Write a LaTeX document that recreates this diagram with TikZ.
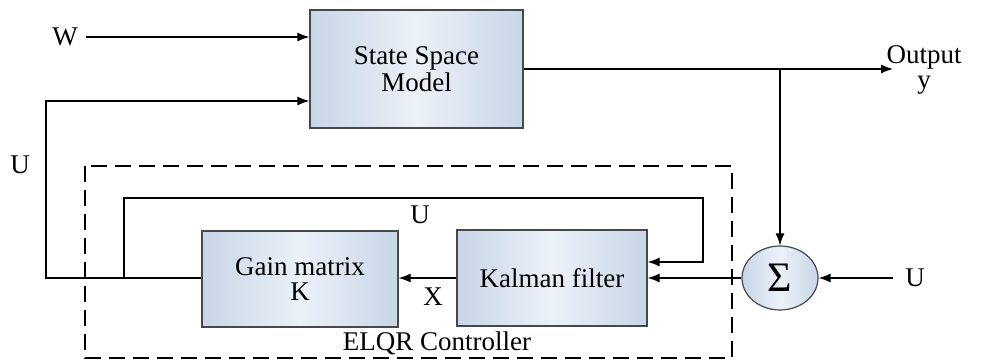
\documentclass[tikz,border=0pt]{standalone}
\usepackage{fontspec}
\setmainfont{Liberation Serif}
\definecolor{boxedge}{RGB}{200, 214, 231}
\definecolor{boxmid}{RGB}{236, 241, 248}
\definecolor{boxline}{RGB}{70, 72, 76}
\usetikzlibrary{arrows.meta, positioning, shapes.geometric, calc}
\tikzset{
	block/.style={rectangle, draw=boxline, line width=0.6pt, left color=boxedge, right color=boxedge, middle color=boxmid, align=center, font=\fontsize{13.5}{13.5}\selectfont},
	sumnode/.style={ellipse, draw=boxline, line width=0.6pt, left color=boxedge, right color=boxedge, middle color=boxmid, minimum width=38pt, minimum height=32pt, inner sep=0pt, font=\fontsize{21}{21}\selectfont},
	lbl/.style={inner sep=1pt, align=center, font=\fontsize{13.5}{12.5}\selectfont},
	arrow/.style={-{Latex[length=6pt, width=4.5pt]}, line width=0.6pt, draw=black},
	ctrlbox/.style={dash pattern=on 8pt off 4pt, line width=1pt},
}
\begin{document}
\begin{tikzpicture}[x=0.5pt, y=-0.5pt]
		\useasboundingbox (0,0) rectangle (988,363);
		\node[block, minimum width=106.5pt, minimum height=59pt] (ssm) at (416.5,69) {State Space\\Model};
		\node[block, minimum width=98pt, minimum height=48pt, font=\fontsize{13.5}{12.5}\selectfont] (gain) at (300,279) {Gain matrix\\K};
		\node[block, minimum width=95pt, minimum height=48pt] (kalman) at (552,278) {Kalman filter};
		\node[sumnode] (sum) at (780,278) {Σ};
		\node[lbl] (wlab) at (65,37) {W};
		\node[lbl] (ylab) at (924,70) {Output\\y};
		\node[lbl] (ulab) at (20,165) {U};
		\node[lbl] (uinlab) at (420,215) {U};
		\node[lbl] (xlab) at (433,297) {X};
		\node[lbl] (urlab) at (915,278) {U};
		\node[lbl] (ctrllab) at (437,343) {ELQR Controller};
		\coordinate (win) at (86,37);
		\coordinate (uturn) at (46,278);
		\coordinate (branch) at (124,278);
		\coordinate (rtop) at (703,198);
		\coordinate (tap) at (780,69);
		\coordinate (yout) at (893,69);
		\coordinate (uin) at (893,278);
		\draw[ctrlbox] (85,166) rectangle (732,358);
		\draw[arrow] (win) -- ([yshift=16pt]ssm.west);
		\draw[arrow] (gain.west |- uturn) -- (uturn) |- ([yshift=-16pt]ssm.west);
		\draw[arrow] (kalman) -- (gain.east |- kalman);
		\draw[arrow] (branch) |- (rtop) |- ([yshift=8pt]kalman.east);
		\draw[arrow] (ssm.east |- yout) -- (yout);
		\draw[arrow] (tap) -- (sum.north);
		\draw[arrow] (sum) -- (kalman);
		\draw[arrow] (uin) -- (sum);
	\end{tikzpicture}
\end{document}
